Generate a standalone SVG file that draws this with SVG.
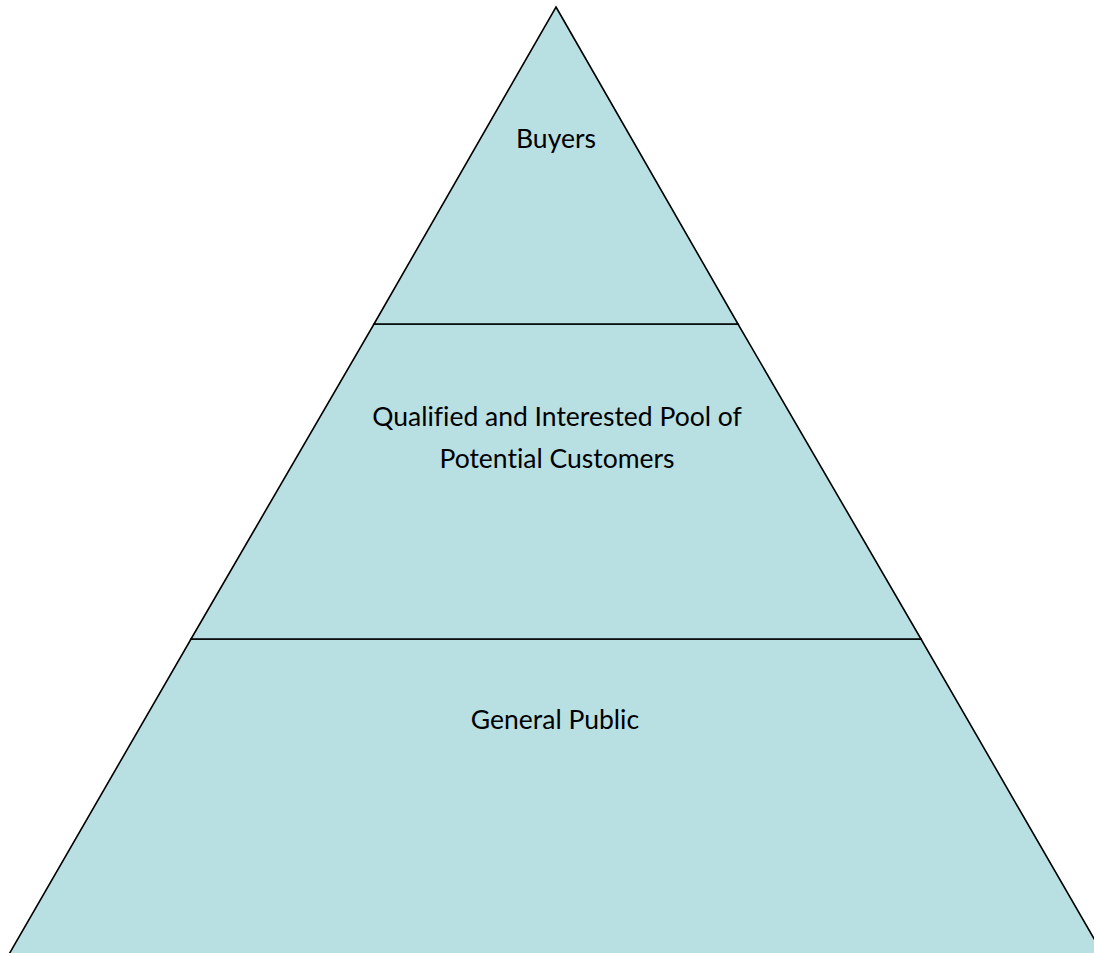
<svg xmlns="http://www.w3.org/2000/svg" width="1094" height="953" viewBox="0 0 1094 953">
<style>
.lvl{fill:#B8DFE2;stroke:#000;stroke-width:1.6;stroke-linejoin:miter}
.t{font-family:Lato,"Liberation Sans",sans-serif;font-size:26.5px;fill:#000;text-anchor:middle;font-variant-ligatures:none}
</style>
<rect width="1094" height="953" fill="#fff"/>
<g id="general-public">
<polygon class="lvl" points="191,639 921,639 1104,956 8,956"/>
<text class="t" x="555" y="729">General Public</text>
</g>
<g id="qualified-pool">
<polygon class="lvl" points="374,324 738,324 921,639 191,639"/>
<text class="t" x="557" y="426">Qualified and Interested Pool of</text>
<text class="t" x="557" y="468">Potential Customers</text>
</g>
<g id="buyers">
<polygon class="lvl" points="556,7 738,324 374,324"/>
<text class="t" x="556" y="148">Buyers</text>
</g>
<g id="connectors"/>
</svg>
